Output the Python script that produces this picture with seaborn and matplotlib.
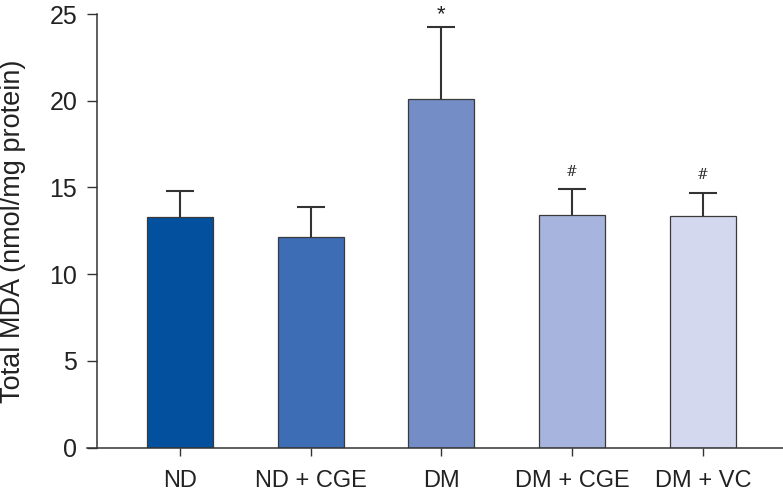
import pandas as pd
import matplotlib.pyplot as plt
import seaborn as sns

# Dados
grupos = ["ND", "ND + CGE", "DM", "DM + CGE", "DM + VC"]
mda = [13.31, 12.14, 20.08, 13.39, 13.35]
erro = [1.50, 1.73, 4.17, 1.50, 1.35]
marcas = ["", "", "*", "#", "#"]
cores = ["#02509E", "#3D6DB5", "#748DC6", "#A7B4DD", "#D3D8EE"]

df = pd.DataFrame({"grupo": grupos, "mda": mda, "erro": erro})

sns.set_style("white")
plt.rcParams["font.family"] = ["Liberation Sans", "DejaVu Sans"]

fig = plt.figure(figsize=(7.83, 4.93), dpi=100)
ax = fig.add_axes([0.1111, 0.0919, 0.8889, 0.8797])

# barras com desvio (apenas para cima)
_, caps, _ = ax.errorbar(range(len(grupos)), df["mda"], yerr=[[0] * len(grupos), df["erro"]],
                         fmt="none", ecolor="#333333", elinewidth=1.5, capsize=10,
                         capthick=1.5, zorder=1)
caps[0].set_visible(False)
sns.barplot(x="grupo", y="mda", hue="grupo", data=df, palette=cores, legend=False,
            saturation=1, width=0.505, edgecolor="#3a3a3a", linewidth=0.9,
            errorbar=None, ax=ax, zorder=2)

# marcas de significância
for i, m in enumerate(marcas):
    if m == "*":
        ax.text(i, 24.65, m, ha="center", va="baseline", fontsize=16,
                color="#222222", clip_on=False)
    elif m == "#":
        ax.text(i, df["erro"][i] + df["mda"][i] + 1.0, m, ha="center", va="center",
                fontsize=10, color="#333333", family=["DejaVu Serif"])

ax.set_xlim(-0.711, 4.612)
ax.set_ylim(0, 25)
ax.set_yticks([0, 5, 10, 15, 20, 25])
ax.set_xlabel("")
ax.set_ylabel("Total MDA (nmol/mg protein)", fontsize=19.5, color="#222222")
ax.yaxis.set_label_coords(-0.088, 0.5)

for lado in ["top", "right"]:
    ax.spines[lado].set_visible(False)
ax.spines["left"].set_position(("axes", 10 / 696))
for lado in ["left", "bottom"]:
    ax.spines[lado].set_color("#333333")
    ax.spines[lado].set_linewidth(1.1)

ax.tick_params(axis="y", direction="out", length=7.2, width=1.0, color="#333333",
               pad=7, labelsize=18, labelcolor="#222222", left=True)
ax.tick_params(axis="x", direction="out", length=6, width=1.0, color="#333333",
               pad=10, labelsize=17, labelcolor="#222222", bottom=True)

fig.savefig("out.png", dpi=100)
